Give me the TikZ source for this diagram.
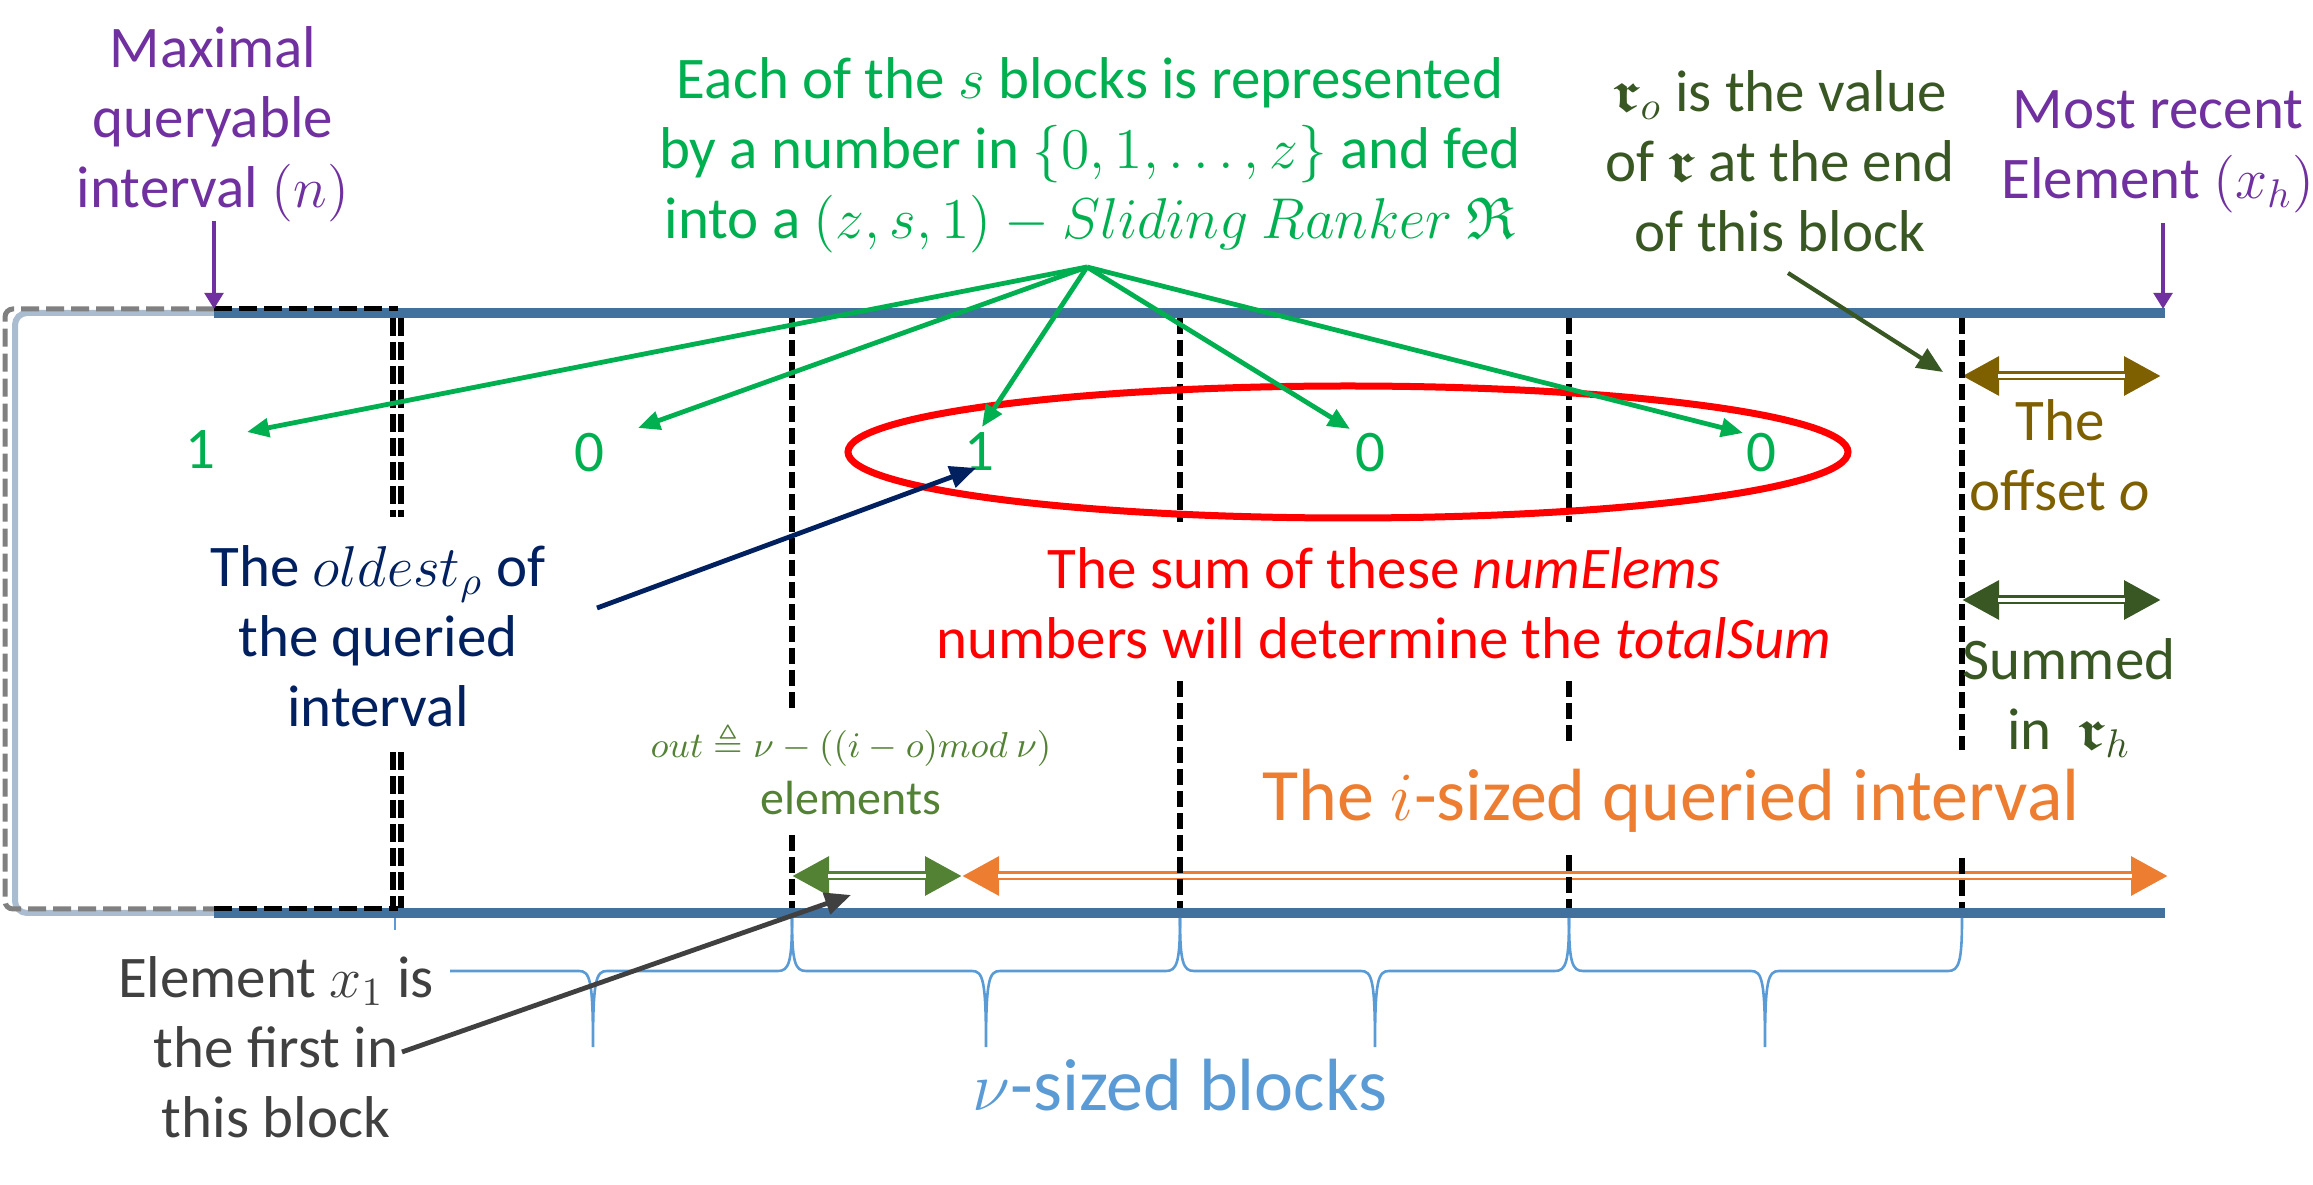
\documentclass[tikz,border=0pt]{standalone}
\usepackage{amsmath,amssymb}
\usepackage{fontspec}
\setmainfont{Carlito}
\usetikzlibrary{arrows.meta}
\definecolor{cpurple}{HTML}{7030A0}
\definecolor{cgreen}{HTML}{00B050}
\definecolor{cdkgreen}{HTML}{385723}
\definecolor{cbrown}{HTML}{7F6000}
\definecolor{cnavy}{HTML}{002060}
\definecolor{cred}{HTML}{FF0000}
\definecolor{corange}{HTML}{ED7D31}
\definecolor{coutgreen}{HTML}{548235}
\definecolor{cblue}{HTML}{41719C}
\definecolor{clight}{HTML}{A9BCD0}
\definecolor{cbrace}{HTML}{5B9BD5}
\definecolor{cgraytext}{HTML}{404040}
\definecolor{cgraydash}{HTML}{808080}
\newcommand\mainsz{\fontsize{14.75pt}{17.5pt}\selectfont}
\newcommand\bigsz{\fontsize{18.5pt}{22pt}\selectfont}
\newcommand\elsz{\fontsize{12pt}{12.5pt}\selectfont}
\newcommand\fmsz{\fontsize{9.5pt}{11pt}\selectfont}
\newcommand\frr{\boldsymbol{\mathfrak{r}}}
\newcommand\dblarrow[3]{%
  \draw[#1, line width=2.25pt, {Triangle[length=9.25pt,width=9.25pt]}-{Triangle[length=9.25pt,width=9.25pt]}] (#2) -- (#3);
  \draw[white, line width=0.85pt, shorten <=9pt, shorten >=9pt] (#2) -- (#3);}
\newcommand\bracemid[1]{-- (#1-14,971) .. controls (#1-3,971) and (#1,980) .. (#1,1047) .. controls (#1,980) and (#1+3,971) .. (#1+14,971)}
\begin{document}
\begin{tikzpicture}[x=0.25pt,y=-0.25pt,
  txt/.style={font=\mainsz, align=center, inner sep=0pt},
  num/.style={font=\mainsz, cgreen, inner sep=0pt},
  blueline/.style={cblue, line width=2.5pt},
  vdash/.style={black, line width=1.35pt, dash pattern=on 4pt off 1.5pt},
  vdashdbl/.style={black, line width=1.3pt, dash pattern=on 4.5pt off 1.5pt},
  hdash/.style={line width=1.25pt, dash pattern=on 4.5pt off 1.75pt},
  fan/.style={cgreen, line width=1.2pt, -{Triangle[length=5.5pt,width=4.6pt]}},
  parr/.style={cpurple, line width=1pt, -{Triangle[length=4pt,width=4.6pt]}},
  bigarr/.style={line width=1.2pt, -{Triangle[length=6.5pt,width=5.5pt]}},
  bracel/.style={cbrace, line width=0.65pt}]
\useasboundingbox (0,0) rectangle (2313,1185);
% window
\draw[clight, line width=1.5pt, rounded corners=3pt] (214,313) -- (15,313) -- (15,913) -- (214,913);
\draw[blueline] (214,313) -- (2165,313);
\draw[blueline] (214,913) -- (2165,913);
\draw[hdash, cgraydash, rounded corners=2pt] (214,309) -- (5,309) -- (5,909) -- (214,909);
\draw[hdash, black] (214,309) -- (398,309);
\draw[hdash, black] (214,909) -- (398,909);
% double arrows
\coordinate (outL) at (792,876); \coordinate (outR) at (962,876); \coordinate (ivR) at (2168,876);
\coordinate (offL) at (1962,376); \coordinate (offR) at (2161,376);
\coordinate (sumL) at (1962,600); \coordinate (sumR) at (2161,600);
\dblarrow{coutgreen}{outL}{outR}
\dblarrow{corange}{outR}{ivR}
\dblarrow{cbrown}{offL}{offR}
\dblarrow{cdkgreen}{sumL}{sumR}
% dashed block boundaries
\draw[vdashdbl] (393,318) -- (393,517); \draw[vdashdbl] (401,318) -- (401,517);
\draw[vdashdbl] (393,752) -- (393,908); \draw[vdashdbl] (401,752) -- (401,908);
\draw[vdash] (792,318) -- (792,712); \draw[vdash] (792,835) -- (792,908);
\draw[vdash] (1180,318) -- (1180,522); \draw[vdash] (1180,681) -- (1180,908);
\draw[vdash] (1569,318) -- (1569,522); \draw[vdash] (1569,681) -- (1569,745); \draw[vdash] (1569,855) -- (1569,908);
\draw[vdash] (1962,318) -- (1962,750); \draw[vdash] (1962,858) -- (1962,908);
% red ellipse
\draw[cred, line width=1.75pt] (1348,452) ellipse [x radius=500, y radius=66];
% braces
\draw[bracel] (395,918) -- (395,930);
\draw[bracel] (450,971) \bracemid{593} -- (792-14,971) .. controls (792-3,971) and (792,962) .. (792,918);
\draw[bracel] (792,918) .. controls (792,962) and (792+3,971) .. (792+14,971) \bracemid{986} -- (1180-14,971) .. controls (1180-3,971) and (1180,962) .. (1180,918);
\draw[bracel] (1180,918) .. controls (1180,962) and (1180+3,971) .. (1180+14,971) \bracemid{1375} -- (1569-14,971) .. controls (1569-3,971) and (1569,962) .. (1569,918);
\draw[bracel] (1569,918) .. controls (1569,962) and (1569+3,971) .. (1569+14,971) \bracemid{1765} -- (1962-14,971) .. controls (1962-3,971) and (1962,962) .. (1962,918);
% texts
\node[txt, cpurple] (maxq) at (213,124) {Maximal\\queryable\\interval $(n)$};
\node[txt, cgreen] (each) at (1090,155) {Each of the $s$ blocks is represented\\by a number in $\{0,1,\ldots,z\}$ and fed\\into a $(z,s,1)-Sliding\ Ranker\ \mathfrak{R}$};
\node[num] (n1) at (200,450) {1};
\node[num] (n2) at (589,453) {0};
\node[num] (n3) at (979,452) {1};
\node[num] (n4) at (1370,453) {0};
\node[num] (n5) at (1761,453) {0};
\node[txt, cred] (sumtxt) at (1384,603) {The sum of these \textit{numElems}\\numbers will determine the \textit{totalSum}};
\node[txt, cnavy] (oldest) at (378,636) {The $oldest_\rho$ of\\the queried\\interval};
\node[coutgreen, font=\fmsz, inner sep=0pt] (outf) at (851,745) {$out \triangleq \nu-((i-o)mod\ \nu)$};
\node[coutgreen, font=\elsz, inner sep=0pt] (outel) at (851,798) {elements};
\node[corange, font=\bigsz, inner sep=0pt] (ival) at (1671,801) {The $i$-sized queried interval};
\node[txt, cdkgreen] (rotxt) at (1780,161) {$\frr_o$ is the value\\of $\frr$ at the end\\of this block};
\node[txt, cpurple] (recent) at (2158,152) {Most recent\\Element $(x_h)$};
\node[txt, cbrown] (offs) at (2060,455) {The\\offset \textit{o}};
\node[txt, cdkgreen] (summ) at (2069,698) {Summed\\in\ \ $\frr_h$};
\node[txt, cgraytext] (x1txt) at (276,1047) {Element $x_1$ is\\the first in\\this block};
\node[cbrace, font=\bigsz, inner sep=0pt] (nublk) at (1180,1085) {$\nu$-sized blocks};
% fan arrows
\coordinate (apex) at (1087,267);
\coordinate (t1) at (247,432); \coordinate (t2) at (638,428); \coordinate (t3) at (982,427);
\coordinate (t4) at (1350,429); \coordinate (t5) at (1743,433);
\foreach \t in {t1,t2,t3,t4,t5} \draw[fan] (apex) -- (\t);
% other arrows
\coordinate (pA) at (214,221); \coordinate (pB) at (214,309);
\draw[parr] (pA) -- (pB);
\coordinate (pC) at (2163,223); \coordinate (pD) at (2163,309);
\draw[parr] (pC) -- (pD);
\coordinate (gA) at (1788,273); \coordinate (gB) at (1943,372);
\draw[bigarr, cdkgreen, line width=1.05pt] (gA) -- (gB);
\coordinate (nA) at (597,608); \coordinate (nB) at (976,468);
\draw[bigarr, cnavy] (nA) -- (nB);
\coordinate (xA) at (402,1052); \coordinate (xB) at (851,895);
\draw[bigarr, cgraytext] (xA) -- (xB);
\end{tikzpicture}
\end{document}
